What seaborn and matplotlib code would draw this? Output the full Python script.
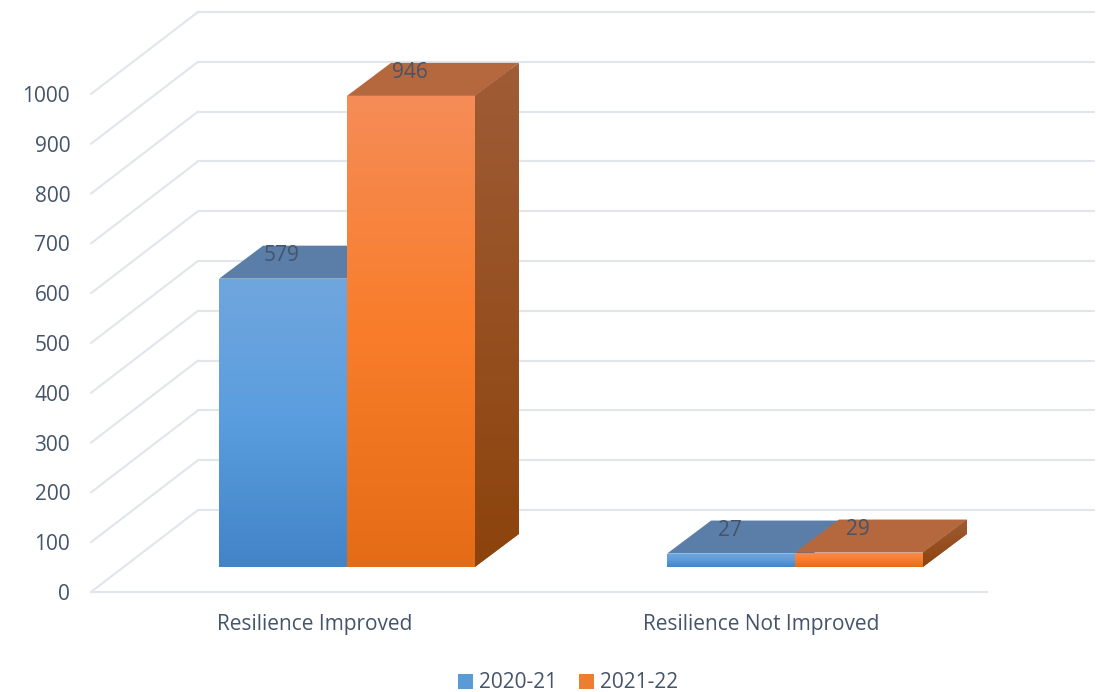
import numpy as np
import pandas as pd
import matplotlib
matplotlib.use("Agg")
import matplotlib.pyplot as plt
from matplotlib.colors import LinearSegmentedColormap
from matplotlib.lines import Line2D
from matplotlib.patches import Polygon
import seaborn as sns

categories = ["Resilience Improved", "Resilience Not Improved"]
series_names = ["2020-21", "2021-22"]
values_2020_21 = [579, 27]
values_2021_22 = [946, 29]
value_ticks = list(range(0, 1001, 100))

W, H = 1098, 692
TEXT = "#44546a"
GRID = "#e1e5ec"
BASE = ["#5b9bd5", "#ed7d31"]
FRONT = [["#70a6dd", "#5a9ddf", "#4284c7"], ["#f58c58", "#f97d2a", "#e56c16"]]
TOP = ["#5a7ea8", "#b5673e"]
SIDE = [["#5a7ea8", "#3f6a99"], ["#9f5c36", "#8c430c"]]

sns.set_theme(style="white")
plt.rcParams["font.family"] = ["Open Sans", "DejaVu Sans"]

fig = plt.figure(figsize=(W / 100, H / 100), dpi=100, facecolor="white")


def plane(left, bottom_y, width=896, height=498):
    """Axes whose lower-left corner sits at pixel (left, bottom_y) from the top."""
    ax = fig.add_axes([left / W, 1 - bottom_y / H, width / W, height / H])
    ax.patch.set_alpha(0)
    ax.set_ylim(0, 1000)
    ax.set_xlim(-0.5, 1.5)
    for s in ax.spines.values():
        s.set_visible(False)
    return ax


# Back wall: gridlines only
wall = plane(198, 510)
wall.set_yticks(value_ticks)
wall.set_xticks([])
wall.tick_params(left=False, labelleft=False)
wall.grid(True, axis="y", color=GRID, lw=1.5, clip_on=False)
for gl in wall.get_ygridlines():
    gl.set_clip_on(False)

# Front plane: axis labels and floor edge
front = plane(91, 592)
front.set_xlim(-0.5, 1.505)
front.set_yticks(value_ticks)
front.set_yticklabels([str(v) for v in value_ticks])
front.set_xticks([0, 1])
front.set_xticklabels(categories)
front.spines["bottom"].set_visible(True)
front.spines["bottom"].set_color(GRID)
front.spines["bottom"].set_linewidth(1.5)
front.tick_params(axis="both", length=0, labelsize=15, labelcolor=TEXT)
front.tick_params(axis="y", pad=15)
front.tick_params(axis="x", pad=16)

# Diagonal side-wall lines
for v in value_ticks:
    px, py = front.transData.transform((-0.5, v))
    qx, qy = wall.transData.transform((-0.5, v))
    fig.add_artist(Line2D([px / W, qx / W], [py / H, qy / H], color=GRID, lw=1.5,
                          transform=fig.transFigure, zorder=0.5))

# Bars on their own plane, set back from the floor edge
bars = plane(123, 567)
df = pd.DataFrame({
    "category": categories * 2,
    "year": [series_names[0]] * 2 + [series_names[1]] * 2,
    "value": values_2020_21 + values_2021_22,
})
sns.barplot(data=df, x="category", y="value", hue="year", palette=BASE, width=0.571,
            gap=0, errorbar=None, ax=bars, saturation=1, legend=True, linewidth=0)
bars.set_xlabel("")
bars.set_ylabel("")
bars.set_xticks([])
bars.set_yticks([])
bars.set_xlim(-0.5, 1.5)
bars.set_ylim(0, 1000)

sx = bars.transData.transform((1, 0))[0] - bars.transData.transform((0, 0))[0]
sy = bars.transData.transform((0, 1))[1] - bars.transData.transform((0, 0))[1]
DX, DY = 44 / sx, 33 / sy


def gradient(stops, box, clip, z):
    cmap = LinearSegmentedColormap.from_list("g", stops)
    im = bars.imshow(np.linspace(0, 1, 256)[:, None], cmap=cmap, extent=box, origin="upper",
                     aspect="auto", zorder=z, interpolation="bilinear")
    im.set_clip_path(clip)


for s, cont in enumerate(bars.containers):
    for rect in cont:
        x0, w, h = rect.get_x(), rect.get_width(), rect.get_height()
        x1 = x0 + w
        base_z = 2 + 3 * s
        bars.add_patch(Polygon([(x0, h), (x1, h), (x1 + DX, h + DY), (x0 + DX, h + DY)],
                               fc=TOP[s], ec="none", zorder=base_z, clip_on=False))
        side = Polygon([(x1, 0), (x1 + DX, DY), (x1 + DX, h + DY), (x1, h)],
                       fc=SIDE[s][0], ec="none", zorder=base_z, clip_on=False)
        bars.add_patch(side)
        gradient(SIDE[s], (x1 - 0.01, x1 + DX + 0.01, -5, h + DY + 5), side, base_z + 0.5)
        rect.set_zorder(base_z + 1)
        gradient(FRONT[s], (x0, x1, 0, h), rect, base_z + 1.5)
        bars.annotate(str(int(h)), xy=(x0 + w / 2, h), xytext=(-1, 23.5), textcoords="offset pixels",
                      ha="center", va="center", color=TEXT, fontsize=15, zorder=20,
                      annotation_clip=False)
bars.set_xlim(-0.5, 1.5)
bars.set_ylim(0, 1000)

leg = bars.get_legend()
handles, labels = leg.legend_handles, [t.get_text() for t in leg.get_texts()]
leg.remove()
fig.legend(handles, labels, loc="center", bbox_to_anchor=(568 / W, 1 - 683 / H), ncol=2, frameon=False,
           fontsize=15, labelcolor=TEXT, handlelength=0.7, handleheight=0.7,
           handletextpad=0.3, columnspacing=1.05, borderpad=0)

fig.savefig("out.png", dpi=100)
